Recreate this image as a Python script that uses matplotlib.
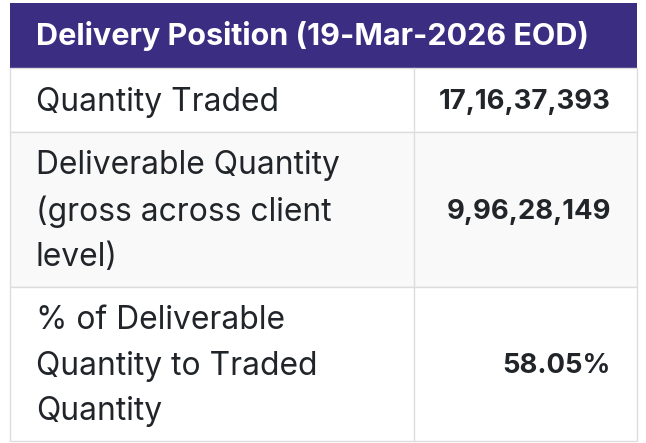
import matplotlib
matplotlib.use("Agg")
import matplotlib.pyplot as plt
from matplotlib.patches import Rectangle

plt.rcParams['font.family'] = ['Inter', 'DejaVu Sans']

title = "Delivery Position (19-Mar-2026 EOD)"
row_labels = ["Quantity Traded", "Deliverable Quantity\n(gross across client\nlevel)", "% of Deliverable\nQuantity to Traded\nQuantity"]
row_values = ["17,16,37,393", "9,96,28,149", "58.05%"]

W, H = 646, 443
fig = plt.figure(figsize=(W/100, H/100), dpi=100)
ax = fig.add_axes([0, 0, 1, 1])
ax.set_xlim(0, W)
ax.set_ylim(H, 0)
ax.axis("off")

left, right, split = 10, 637, 414
row_tops = [68, 132, 287, 441]
fills = ["white", "#f9f9f9", "white"]
line = "#dddddd"

#header
ax.add_patch(Rectangle((left, 3), right-left, 65, fc="#3b2e82", ec="none"))
ax.text(36, 36, title, color="white", fontsize=22, fontweight="bold", va="center", ha="left")

#rows
for i in range(3):
    top, bot = row_tops[i], row_tops[i+1]
    ax.add_patch(Rectangle((left, top), right-left, bot-top, fc=fills[i], ec=line, lw=1))
    ax.plot([split, split], [top, bot], color=line, lw=1)
    ax.text(36, (top+bot)/2 + 2, row_labels[i], color="#212529", fontsize=22.9, va="center", ha="left", linespacing=1.59)
    ax.text(611, (top+bot)/2 + 2, row_values[i], color="#212529", fontsize=19.8, fontweight="bold", va="center", ha="right")

plt.savefig("out.png", dpi=100)
